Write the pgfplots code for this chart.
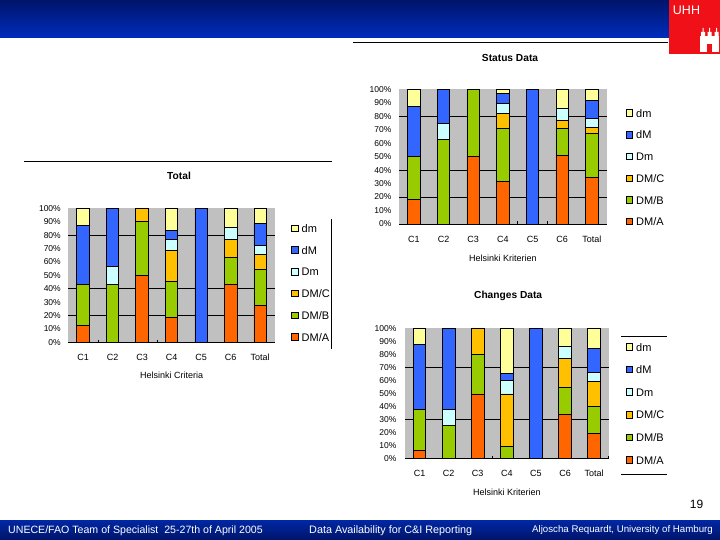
\documentclass[border=0pt]{standalone}
\usepackage{fontspec}
\setmainfont{Liberation Sans}
\usepackage{pgfplots}
\usepackage{pgfplotstable}
\pgfplotsset{compat=1.18}

\definecolor{dmA}{HTML}{FF6600}
\definecolor{dmB}{HTML}{99CC00}
\definecolor{dmC}{HTML}{FFC000}
\definecolor{cDm}{HTML}{CCFFFF}
\definecolor{cdM}{HTML}{3366FF}
\definecolor{cdm}{HTML}{FFFF99}
\definecolor{plotgray}{HTML}{C0C0C0}
\definecolor{navytop}{HTML}{00146A}
\definecolor{navybot}{HTML}{002DBE}
\definecolor{unired}{HTML}{F01018}

% segment heights in percent, bottom to top
\pgfplotstableread{
x A B C Dm dM dm
0 12.5 31.0 0 0 43.5 13.0
1 0 43.5 0 13.0 43.5 0
2 50.0 40.0 10.0 0 0 0
3 18.7 26.8 22.9 8.6 6.6 16.4
4 0 0 0 0 100 0
5 43.0 20.0 14.0 9.0 0 14.0
6 27.6 26.9 10.9 6.6 16.8 11.2
}\totaldata
\pgfplotstableread{
x A B C Dm dM dm
0 18.3 31.9 0 0 37.2 12.6
1 0 62.9 0 11.9 25.2 0
2 50.0 50.0 0 0 0 0
3 31.7 39.3 11.0 7.6 7.4 3.0
4 0 0 0 0 100 0
5 51.0 20.0 6.0 8.9 0 14.1
6 34.7 32.6 4.5 6.4 13.6 8.2
}\statusdata
\pgfplotstableread{
x A B C Dm dM dm
0 6.2 31.5 0 0 49.7 12.6
1 0 25.4 0 12.3 62.3 0
2 49.5 30.5 20.0 0 0 0
3 0 9.2 40.3 10.5 5.4 34.6
4 0 0 0 0 100 0
5 34.0 20.6 22.1 9.5 0 13.8
6 19.2 20.8 19.2 6.7 18.5 15.6
}\changesdata

\pgfplotsset{
  hhchart/.style={
    scale only axis,
    anchor=south west,
    ybar stacked,
    bar width=12.5pt,
    bar shift=0pt,
    xmin=-0.5, xmax=6.5, ymin=0, ymax=100,
    axis x line*=bottom, axis y line*=left,
    y axis line style={draw=none},
    axis background/.style={fill=plotgray},
    xtick={0,...,6},
    xticklabels={C1,C2,C3,C4,C5,C6,Total},
    ytick={0,10,...,100},
    yticklabels={0\%,10\%,20\%,30\%,40\%,50\%,60\%,70\%,80\%,90\%,100\%},
    major tick length=0pt,
    yticklabel style={font=\fontsize{8.5}{9}\selectfont,xshift=-4pt},
    xticklabel style={font=\fontsize{9}{10}\selectfont,yshift=-8pt,text height=7pt,text depth=0pt},
    major grid style={black,line width=0.9pt},
    extra y tick style={grid=major,major tick length=0pt},
    extra y tick labels={},
    extra x tick labels={},
    extra x tick style={major tick length=2.5pt,tick style={black,line width=0.6pt}},
    title style={font=\fontsize{10.2}{11}\bfseries\selectfont},
    label style={font=\fontsize{9}{10}\selectfont},
    reverse legend,
    legend cell align=left,
    legend image code/.code={\draw[##1,line width=0.7pt] (0pt,1pt) rectangle (6.5pt,7.5pt);
      \path (9.5pt,4pt);},
    legend style={draw=none,fill=none,font=\fontsize{11}{12}\selectfont,
      nodes={inner sep=0pt,text height=8pt,text depth=0pt,anchor=base west}},
  },
  seg/.style={draw=black,line width=0.8pt,fill=#1},
}
\newcommand\segments[1]{
  \addplot[seg=dmA] table[x=x,y=A]{#1}; \addlegendentry{DM/A}
  \addplot[seg=dmB] table[x=x,y=B]{#1}; \addlegendentry{DM/B}
  \addplot[seg=dmC] table[x=x,y=C]{#1}; \addlegendentry{DM/C}
  \addplot[seg=cDm] table[x=x,y=Dm]{#1}; \addlegendentry{Dm}
  \addplot[seg=cdM] table[x=x,y=dM]{#1}; \addlegendentry{dM}
  \addplot[seg=cdm] table[x=x,y=dm]{#1}; \addlegendentry{dm}
}

\begin{document}
\begin{tikzpicture}[x=1pt,y=1pt]
\path[use as bounding box,fill=white] (0,0) rectangle (720,540);
% slide furniture
\shade[top color=navytop,bottom color=navybot] (0,502) rectangle (669,540);
\shade[top color=navybot!85!black,bottom color=navytop] (0,0) rectangle (720,19);
\fill[unired] (669,486) rectangle (720,540);
\node[white,font=\fontsize{12.5}{13}\selectfont,inner sep=0pt] at (686.5,529.5) {UHH};
\fill[white] (700,488) rectangle (719,504);
\fill[white] (701,504) rectangle (705,508) (707.5,504) rectangle (711.5,508) (714.5,504) rectangle (718.5,508);
\fill[white] (702.5,508) rectangle (703.5,512) (709,508) rectangle (710,512) (716,508) rectangle (717,512);
\fill[unired] (707,488) rectangle (712,496);
\draw[black,line width=0.9pt] (353,498) -- (668,498);
\draw[black,line width=0.9pt] (24,378.7) -- (332,378.7);
\draw[black,line width=0.9pt] (331,321) -- (331,191);
\draw[black,line width=0.9pt] (621,203.3) -- (667,203.3);
\draw[black,line width=0.9pt] (621,66) -- (667,66);
\node[anchor=west,inner sep=0pt,white,font=\fontsize{10.6}{11}\selectfont] at (8,9.5) {UNECE/FAO Team of Specialist\ \ 25-27th of April 2005};
\node[anchor=west,inner sep=0pt,white,font=\fontsize{10.8}{11}\selectfont] at (309,9.5) {Data Availability for C\&I Reporting};
\node[anchor=west,inner sep=0pt,white,font=\fontsize{9.7}{10}\selectfont] at (532,10.5) {Aljoscha Requardt, University of Hamburg};
\node[anchor=east,inner sep=0pt,font=\fontsize{12}{13}\selectfont] at (703.5,36) {19};

\begin{axis}[hhchart,at={(68.3pt,197.7pt)},width=206.7pt,height=134pt,
  title={Total},title style={at={(0.5,1)},anchor=center,xshift=7.4pt,yshift=26.3pt},
  xlabel={Helsinki Criteria},xlabel style={at={(0.5,0)},anchor=center,yshift=-32.5pt},
  extra y ticks={20,40,80},extra x ticks={0.5,2.5},
  legend style={at={(1,0)},anchor=south west,xshift=13.3pt,yshift=-1pt,row sep=13.7pt}]
\segments{\totaldata}
\end{axis}

\begin{axis}[hhchart,at={(399pt,316pt)},width=207.7pt,height=134.7pt,
  title={Status Data},title style={at={(0.5,1)},anchor=center,xshift=7.2pt,yshift=25.3pt},
  xlabel={Helsinki Kriterien},xlabel style={at={(0.5,0)},anchor=center,xshift=0pt,yshift=-34pt},
  extra y ticks={20,40,80},extra x ticks={3.5,4.5},
  legend style={at={(1,0)},anchor=south west,xshift=16pt,yshift=-4pt,row sep=13.7pt}]
\segments{\statusdata}
\end{axis}

\begin{axis}[hhchart,at={(405pt,81.7pt)},width=203.7pt,height=130pt,
  title={Changes Data},title style={at={(0.5,1)},anchor=center,xshift=1.3pt,yshift=26.3pt},
  xlabel={Helsinki Kriterien},xlabel style={at={(0.5,0)},anchor=center,xshift=0pt,yshift=-33.7pt},
  yticklabel style={xshift=-1pt},
  extra y ticks={30,70},extra x ticks={2.5,6.5},
  legend style={at={(1,0)},anchor=south west,xshift=14pt,yshift=-8pt,row sep=14.6pt}]
\segments{\changesdata}
\end{axis}
\end{tikzpicture}
\end{document}
